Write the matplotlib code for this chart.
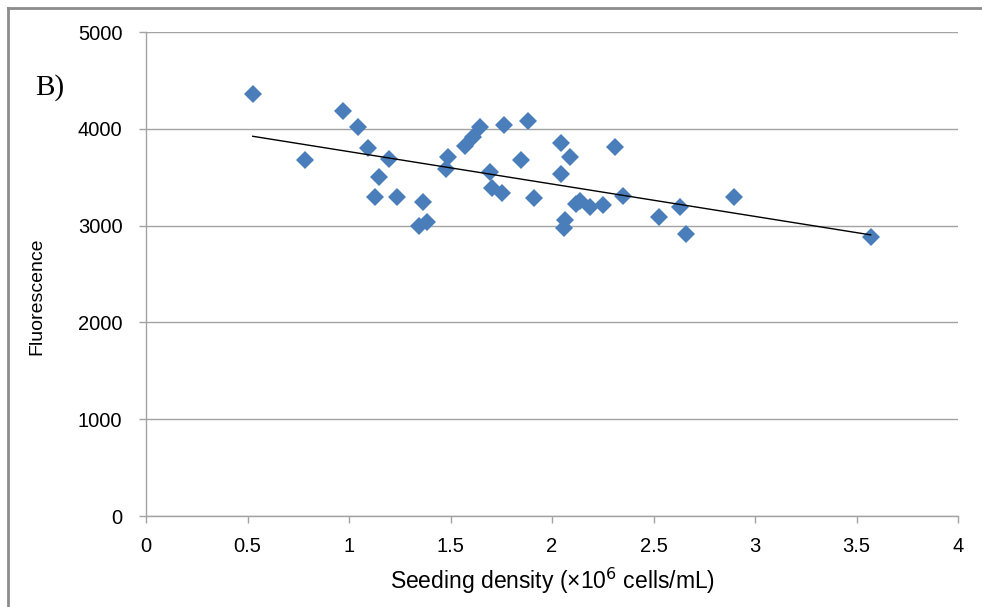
import numpy as np
import matplotlib
matplotlib.use("Agg")
import matplotlib.pyplot as plt
from matplotlib.lines import Line2D

# Seeding density (x10^6 cells/mL) and measured fluorescence
density = [0.526, 0.783, 0.972, 1.046, 1.095, 1.197, 1.148, 1.128, 1.235, 1.363,
           1.345, 1.383, 1.489, 1.478, 1.571, 1.611, 1.645, 1.764, 1.882, 1.697,
           1.703, 1.756, 1.847, 1.912, 2.043, 2.089, 2.042, 2.062, 2.059, 2.118,
           2.138, 2.185, 2.249, 2.312, 2.351, 2.525, 2.631, 2.660, 2.899, 3.570]
fluorescence = [4356, 3678, 4187, 4022, 3805, 3691, 3505, 3292, 3292, 3247,
                2999, 3034, 3706, 3580, 3822, 3915, 4017, 4044, 4077, 3554,
                3385, 3332, 3678, 3282, 3856, 3712, 3533, 3061, 2977, 3223,
                3254, 3192, 3216, 3812, 3306, 3089, 3195, 2916, 3292, 2885]

x_ticks = [0, 0.5, 1, 1.5, 2, 2.5, 3, 3.5, 4]
x_tick_labels = ["0", "0.5", "1", "1.5", "2", "2.5", "3", "3.5", "4"]
y_ticks = [0, 1000, 2000, 3000, 4000, 5000]

plt.rcParams["font.family"] = ["Liberation Sans", "DejaVu Sans"]

fig = plt.figure(figsize=(9.82, 6.07), dpi=100)
ax = fig.add_axes([146 / 982, 1 - 516 / 607, (958 - 146) / 982, (516 - 32) / 607])

grid_color = "#a3a3a3"
ax.set_xlim(0, 4)
ax.set_ylim(0, 5000)
ax.set_xticks(x_ticks)
ax.set_xticklabels(x_tick_labels)
ax.set_yticks(y_ticks)
ax.yaxis.grid(True, color=grid_color, lw=1)
ax.set_axisbelow(True)
for side in ("top", "right"):
    ax.spines[side].set_visible(False)
for side in ("left", "bottom"):
    ax.spines[side].set_color(grid_color)
    ax.spines[side].set_linewidth(1)
ax.tick_params(axis="both", direction="out", length=5, width=1, color=grid_color,
               labelcolor="black")
ax.tick_params(axis="x", pad=10, labelsize=14.5)
ax.tick_params(axis="y", pad=12, labelsize=14.5)

# data points
ax.plot(density, fluorescence, linestyle="none", marker="D", markersize=9,
        markerfacecolor="#4a7ebb", markeredgewidth=0, zorder=3)

# linear trendline over the range of the data
slope, intercept = np.polyfit(density, fluorescence, 1)
xs = np.array([min(density), max(density)])
ax.plot(xs, slope * xs + intercept, color="black", lw=1, zorder=4)

ax.set_xlabel("Seeding density (×10$^{6}$ cells/mL)", fontsize=16.5, va="center")
ax.xaxis.set_label_coords(0.5, (516 - 581) / 484)
ax.set_ylabel("Fluorescence", fontsize=14, va="center")
ax.yaxis.set_label_coords((37 - 146) / 812, (516 - 296) / 484)

fig.text(35 / 982, 1 - 88 / 607, "B)", fontsize=21, family="Liberation Serif",
         ha="left", va="center")

# frame along the left and top edges of the figure
fig.add_artist(Line2D([8 / 982, 8 / 982], [0, 1 - 8 / 607], transform=fig.transFigure,
                      color="#8c8c8c", lw=2))
fig.add_artist(Line2D([8 / 982, 1], [1 - 8 / 607, 1 - 8 / 607], transform=fig.transFigure,
                      color="#8c8c8c", lw=2))

fig.savefig("out.png", dpi=100)
